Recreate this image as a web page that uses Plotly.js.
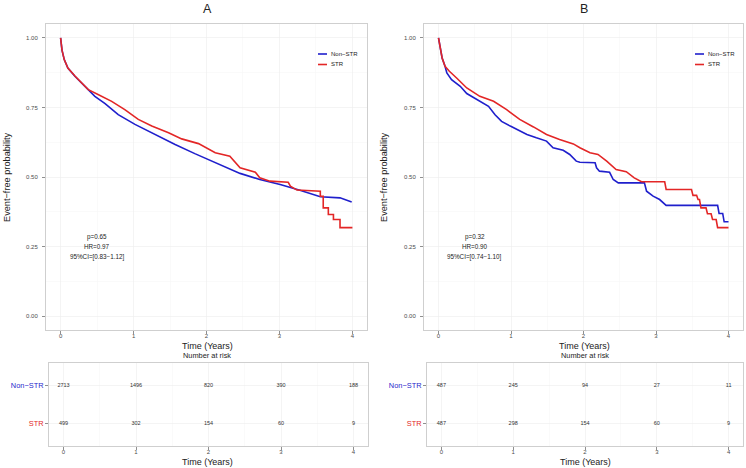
<!DOCTYPE html>
<html>
<head>
<meta charset="utf-8">
<script src="https://cdn.plot.ly/plotly-3.0.1.min.js"></script>
<style>
  html, body { margin: 0; padding: 0; background: #fff; }
  #km { width: 746px; height: 468px; }
</style>
</head>
<body>
<div id="km"></div>
<script>
// ---- data ----
var years = [0, 1, 2, 3, 4];
var groups = ["Non\u2212STR", "STR"];

// panel A: event-free probability
var aNonT = [0, 0.02, 0.05, 0.10, 0.196, 0.333, 0.47, 0.61, 0.79, 1.02, 1.29, 1.57, 1.84, 2.12, 2.46, 2.73, 3.01, 3.28, 3.56, 3.83, 3.99];
var aNonS = [1.0, 0.955, 0.922, 0.892, 0.862, 0.826, 0.790, 0.764, 0.724, 0.689, 0.653, 0.617, 0.584, 0.551, 0.513, 0.491, 0.473, 0.452, 0.429, 0.425, 0.41];
var aStrT = [0, 0.02, 0.05, 0.10, 0.2, 0.38, 0.52, 0.70, 0.88, 1.065, 1.25, 1.48, 1.66, 1.89, 2.12, 2.32, 2.46, 2.67, 2.73, 2.87, 3.12, 3.15, 3.24, 3.49, 3.56, 3.56, 3.60, 3.60, 3.67, 3.67, 3.74, 3.74, 3.83, 3.83, 4.0];
var aStrS = [1.0, 0.955, 0.922, 0.892, 0.862, 0.814, 0.796, 0.772, 0.742, 0.707, 0.683, 0.659, 0.637, 0.620, 0.587, 0.575, 0.533, 0.517, 0.497, 0.485, 0.481, 0.467, 0.453, 0.449, 0.449, 0.431, 0.431, 0.389, 0.389, 0.365, 0.365, 0.347, 0.347, 0.318, 0.318];

// panel B: event-free probability
var bNonT = [0, 0.03, 0.05, 0.09, 0.115, 0.18, 0.30, 0.39, 0.53, 0.69, 0.78, 0.87, 0.99, 1.08, 1.22, 1.35, 1.49, 1.58, 1.72, 1.81, 1.90, 1.95, 2.16, 2.18, 2.22, 2.36, 2.41, 2.48, 2.84, 2.87, 2.96, 3.05, 3.14, 3.85, 3.87, 3.92, 3.94, 4.0];
var bNonS = [1.0, 0.95, 0.928, 0.898, 0.874, 0.850, 0.826, 0.800, 0.778, 0.754, 0.724, 0.700, 0.683, 0.671, 0.653, 0.641, 0.629, 0.605, 0.596, 0.581, 0.557, 0.553, 0.551, 0.533, 0.521, 0.517, 0.491, 0.479, 0.479, 0.449, 0.431, 0.419, 0.398, 0.398, 0.369, 0.369, 0.339, 0.339];
var bStrT = [0, 0.03, 0.05, 0.09, 0.15, 0.25, 0.39, 0.57, 0.76, 0.94, 1.12, 1.31, 1.49, 1.67, 1.86, 1.95, 2.09, 2.20, 2.32, 2.45, 2.59, 2.70, 2.80, 3.12, 3.14, 3.49, 3.51, 3.56, 3.58, 3.60, 3.62, 3.69, 3.71, 3.76, 3.78, 3.83, 3.85, 4.0];
var bStrS = [1.0, 0.95, 0.928, 0.898, 0.880, 0.856, 0.820, 0.790, 0.772, 0.742, 0.707, 0.680, 0.653, 0.635, 0.619, 0.605, 0.587, 0.581, 0.557, 0.527, 0.519, 0.497, 0.483, 0.483, 0.455, 0.455, 0.434, 0.434, 0.419, 0.419, 0.389, 0.389, 0.368, 0.368, 0.347, 0.347, 0.318, 0.318];

// number at risk
var riskANon = [2713, 1496, 820, 390, 188];
var riskAStr = [499, 302, 154, 60, 9];
var riskBNon = [487, 245, 94, 27, 11];
var riskBStr = [487, 298, 154, 60, 9];

var statsA = ["p=0.65", "HR=0.97", "95%CI=[0.83\u22121.12]"];
var statsB = ["p=0.32", "HR=0.90", "95%CI=[0.74\u22121.10]"];

// ---- styling ----
var BLUE = "#1f1fcc";
var RED = "#e32626";
var W = 746, H = 468;
function px(x) { return x / W; }
function py(y) { return 1 - y / H; }
var FONT = "Liberation Sans, Arial, sans-serif";

function curve(t, s, color, xa, ya) {
  return { x: t, y: s, type: "scatter", mode: "lines", xaxis: xa, yaxis: ya,
    line: { color: color, width: 1.6 }, hoverinfo: "skip", showlegend: false };
}
function riskRow(vals, row, xa, ya) {
  return { x: years, y: years.map(function () { return row; }), text: vals.map(String),
    type: "scatter", mode: "text", xaxis: xa, yaxis: ya,
    textfont: { size: 5.5, color: "#333333" }, hoverinfo: "skip", showlegend: false };
}

var data = [
  curve(aNonT, aNonS, BLUE, "x", "y"),
  curve(aStrT, aStrS, RED, "x", "y"),
  riskRow(riskANon, 2, "x2", "y2"),
  riskRow(riskAStr, 1, "x2", "y2"),
  curve(bNonT, bNonS, BLUE, "x3", "y3"),
  curve(bStrT, bStrS, RED, "x3", "y3"),
  riskRow(riskBNon, 2, "x4", "y4"),
  riskRow(riskBStr, 1, "x4", "y4")
];

function xAxis(domain, anchor) {
  return { domain: domain, anchor: anchor, range: [-0.2, 4.2], tick0: 0, dtick: 1,
    ticks: "outside", ticklen: 3, tickcolor: "#444", tickwidth: 0.6, ticklabelstandoff: -3,
    tickfont: { size: 6, color: "#4d4d4d" },
    showline: true, mirror: true, linecolor: "#cfcfcf", linewidth: 1,
    showgrid: true, gridcolor: "#ececec", gridwidth: 0.6,
    minor: { dtick: 0.5, tick0: 0, showgrid: true, gridcolor: "#f5f5f5", gridwidth: 0.5 },
    zeroline: false, fixedrange: true };
}
function yMain(domain, anchor) {
  return { domain: domain, anchor: anchor, range: [-0.05, 1.05], tick0: 0, dtick: 0.25, tickformat: ".2f",
    ticks: "outside", ticklen: 3, tickcolor: "#444", tickwidth: 0.6, ticklabelstandoff: 3,
    tickfont: { size: 6, color: "#4d4d4d" },
    showline: true, mirror: true, linecolor: "#cfcfcf", linewidth: 1,
    showgrid: true, gridcolor: "#ececec", gridwidth: 0.6,
    minor: { dtick: 0.125, tick0: 0, showgrid: true, gridcolor: "#f5f5f5", gridwidth: 0.5 },
    zeroline: false, fixedrange: true };
}
function yRisk(domain, anchor) {
  return { domain: domain, anchor: anchor, range: [0.4, 2.6], tickmode: "array", tickvals: [1, 2],
    ticktext: ['<span style="color:' + RED + '">' + groups[1] + '</span>',
               '<span style="color:' + BLUE + '">' + groups[0] + '</span>'],
    ticks: "outside", ticklen: 3, tickcolor: "#444", tickwidth: 0.6,
    tickfont: { size: 7.4 },
    showline: true, mirror: true, linecolor: "#cfcfcf", linewidth: 1,
    showgrid: true, gridcolor: "#ececec", gridwidth: 0.6,
    zeroline: false, fixedrange: true };
}

var mainY = [py(330), py(24)];
var riskY = [py(446), py(363)];

var anns = [];
function txt(x, y, s, size, opts) {
  var a = { xref: "paper", yref: "paper", x: px(x), y: py(y), text: s, showarrow: false,
    xanchor: "center", yanchor: "middle", font: { size: size, color: "#222", family: FONT } };
  for (var k in opts) a[k] = opts[k];
  anns.push(a);
}
// panel A texts
txt(207, 9, "A", 12.5);
txt(207, 345.5, "Time (Years)", 9);
txt(207, 355.5, "Number at risk", 7.4);
txt(207, 461.5, "Time (Years)", 9);
txt(7, 177, "Event\u2212free probability", 9.2, { textangle: -90 });
// panel B texts
txt(584, 9, "B", 12.5);
txt(584, 345.5, "Time (Years)", 9);
txt(585, 355.5, "Number at risk", 7.4);
txt(585, 461.5, "Time (Years)", 9);
txt(384, 177, "Event\u2212free probability", 9.2, { textangle: -90 });

// stats annotations placed in data coordinates
[[statsA, "x", "y"], [statsB, "x3", "y3"]].forEach(function (p) {
  var ys = [0.286, 0.251, 0.214];
  p[0].forEach(function (s, i) {
    anns.push({ xref: p[1], yref: p[2], x: 0.5, y: ys[i], text: s, showarrow: false,
      xanchor: "center", yanchor: "middle", font: { size: 6.3, color: "#222", family: FONT } });
  });
});

// small legends inside each panel
var shapes = [];
function legend(x0, y0) {
  [[groups[0], BLUE, y0], [groups[1], RED, y0 + 10.5]].forEach(function (g) {
    shapes.push({ type: "line", xref: "paper", yref: "paper", x0: px(x0), x1: px(x0 + 9),
      y0: py(g[2]), y1: py(g[2]), line: { color: g[1], width: 1.6 } });
    anns.push({ xref: "paper", yref: "paper", x: px(x0 + 10.5), y: py(g[2]), text: g[0], showarrow: false,
      xanchor: "left", yanchor: "middle", font: { size: 6, color: "#222", family: FONT } });
  });
}
legend(318, 54);
legend(695, 54);

var layout = {
  width: W, height: H,
  margin: { l: 0, r: 0, t: 0, b: 0 },
  paper_bgcolor: "#ffffff", plot_bgcolor: "#ffffff",
  font: { family: FONT, color: "#333" },
  showlegend: false,
  xaxis: xAxis([px(46), px(367)], "y"),
  yaxis: yMain(mainY, "x"),
  xaxis2: xAxis([px(49), px(368)], "y2"),
  yaxis2: yRisk(riskY, "x2"),
  xaxis3: xAxis([px(424), px(743)], "y3"),
  yaxis3: yMain(mainY, "x3"),
  xaxis4: xAxis([px(427), px(743)], "y4"),
  yaxis4: yRisk(riskY, "x4"),
  annotations: anns,
  shapes: shapes
};

Plotly.newPlot("km", data, layout, { staticPlot: true, displayModeBar: false });
</script>
</body>
</html>
